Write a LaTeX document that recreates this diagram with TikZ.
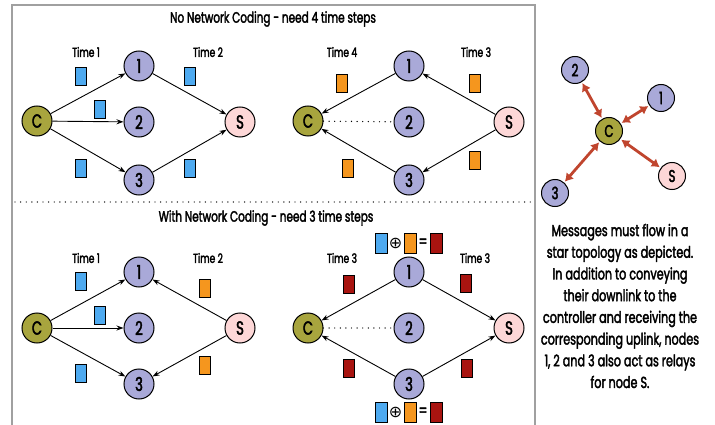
\documentclass[tikz,border=0pt]{standalone}
\usepackage{fontspec}
\setmainfont{Poppins}[FakeStretch=0.7,FakeBold=2.2]
\newfontfamily\symfont{DejaVu Sans}
\usetikzlibrary{arrows.meta}
\definecolor{colC}{HTML}{A8A53E}
\definecolor{colN}{HTML}{A9A9D8}
\definecolor{colS}{HTML}{FDD7D7}
\definecolor{pblue}{HTML}{4EAAF0}
\definecolor{porange}{HTML}{F5961E}
\definecolor{pred}{HTML}{A81410}
\definecolor{starred}{HTML}{C0452E}
\definecolor{framegray}{HTML}{A0A0A0}
\tikzset{
  nd/.style={circle,draw,line width=1pt,minimum size=30pt,inner sep=0pt,font=\fontsize{19}{19}\selectfont},
  snd/.style={nd,minimum size=27pt,font=\fontsize{17}{17}\selectfont},
  cnode/.style={fill=colC},
  nnode/.style={fill=colN},
  snode/.style={fill=colS},
  pk/.style={rectangle,draw,line width=0.6pt,minimum width=11pt,minimum height=18pt,inner sep=0pt},
  eqpk/.style={pk,minimum width=12pt,minimum height=20pt},
  edge/.style={line width=0.9pt,-{Stealth[length=7pt,width=5pt]}},
  dotline/.style={line width=1.4pt,line cap=round,dash pattern=on 0pt off 5.6pt},
  starrow/.style={starred,line width=2.8pt,{Latex[length=8pt,width=10pt]}-{Latex[length=8pt,width=10pt]},shorten <=1pt,shorten >=1pt},
  lbl/.style={font=\fontsize{13}{13}\selectfont},
  ttl/.style={font=\fontsize{15}{15}\selectfont},
  eqsym/.style={inner sep=0pt,font=\symfont\fontsize{16}{16}\selectfont},
  eqeq/.style={inner sep=0pt,font=\fontsize{17}{17}\selectfont}
}
\begin{document}
\begin{tikzpicture}[x=1pt,y=-1pt]
\useasboundingbox (0,0) rectangle (715,425);
% frame
\draw[framegray,line width=1.4pt] (12,428) -- (12,5) -- (535,5) -- (535,428);
\coordinate (sepL) at (15,202);
\coordinate (sepR) at (533,202);
\draw[dotline] (sepL) -- (sepR);
\node[ttl] (t1) at (273,19) {No Network Coding - need 4 time steps};
\node[ttl] (t2) at (266,218) {With Network Coding - need 3 time steps};

% ---------- top-left ----------
\node[nd,cnode] (aC) at (37,121) {C};
\node[nd,nnode] (a1) at (139,66) {1};
\node[nd,nnode] (a2) at (139,122) {2};
\node[nd,nnode] (a3) at (139,180) {3};
\node[nd,snode] (aS) at (240,122) {S};
\draw[edge] (aC) -- (a1);
\draw[edge] (aC) -- (a2);
\draw[edge] (aC) -- (a3);
\draw[edge] (a1) -- (aS);
\draw[edge] (a3) -- (aS);
\node[lbl] (aT1) at (86,52) {Time 1};
\node[lbl] (aT2) at (208,52) {Time 2};
\node[pk,fill=pblue] (ap1) at (81,76) {};
\node[pk,fill=pblue] (ap2) at (100,109) {};
\node[pk,fill=pblue] (ap3) at (81,168) {};
\node[pk,fill=pblue] (ap4) at (190,76) {};
\node[pk,fill=pblue] (ap5) at (190,168) {};

% ---------- top-right ----------
\node[nd,cnode] (bC) at (308,121) {C};
\node[nd,nnode] (b1) at (409,66) {1};
\node[nd,nnode] (b2) at (409,122) {2};
\node[nd,nnode] (b3) at (409,180) {3};
\node[nd,snode] (bS) at (509,122) {S};
\draw[edge] (b1) -- (bC);
\draw[edge] (b3) -- (bC);
\draw[edge] (bS) -- (b1);
\draw[edge] (bS) -- (b3);
\draw[dotline] (bC) -- (b2);
\node[lbl] (bT4) at (342,52) {Time 4};
\node[lbl] (bT3) at (476,52) {Time 3};
\node[pk,fill=porange] (bp1) at (342,83) {};
\node[pk,fill=porange] (bp2) at (348,168) {};
\node[pk,fill=porange] (bp3) at (475,83) {};
\node[pk,fill=porange] (bp4) at (475,160) {};

% ---------- bottom-left ----------
\node[nd,cnode] (cC) at (37,328) {C};
\node[nd,nnode] (c1) at (139,272) {1};
\node[nd,nnode] (c2) at (139,328) {2};
\node[nd,nnode] (c3) at (139,384) {3};
\node[nd,snode] (cS) at (240,328) {S};
\draw[edge] (cC) -- (c1);
\draw[edge] (cC) -- (c2);
\draw[edge] (cC) -- (c3);
\draw[edge] (cS) -- (c1);
\draw[edge] (cS) -- (c3);
\node[lbl] (cT1) at (86,258) {Time 1};
\node[lbl] (cT2) at (208,258) {Time 2};
\node[pk,fill=pblue] (cp1) at (81,281) {};
\node[pk,fill=pblue] (cp2) at (100,315) {};
\node[pk,fill=pblue] (cp3) at (81,373) {};
\node[pk,fill=porange] (cp4) at (205,288) {};
\node[pk,fill=porange] (cp5) at (205,365) {};

% ---------- bottom-right ----------
\node[nd,cnode] (dC) at (308,328) {C};
\node[nd,nnode] (d1) at (409,272) {1};
\node[nd,nnode] (d2) at (409,328) {2};
\node[nd,nnode] (d3) at (409,384) {3};
\node[nd,snode] (dS) at (509,328) {S};
\draw[edge] (d1) -- (dC);
\draw[edge] (d3) -- (dC);
\draw[edge] (d1) -- (dS);
\draw[edge] (d3) -- (dS);
\draw[dotline] (dC) -- (d2);
\node[lbl] (dT3a) at (342,258) {Time 3};
\node[lbl] (dT3b) at (475,258) {Time 3};
\node[pk,fill=pred] (dp1) at (349,284) {};
\node[pk,fill=pred] (dp2) at (466,283) {};
\node[pk,fill=pred] (dp3) at (349,368) {};
\node[pk,fill=pred] (dp4) at (467,368) {};
% equations
\node[eqpk,fill=pblue] (e1a) at (381,243) {};
\node[eqsym] (e1b) at (395.5,243) {⊕};
\node[eqpk,fill=porange] (e1c) at (410,243) {};
\node[eqeq] (e1d) at (423,243) {=};
\node[eqpk,fill=pred] (e1e) at (436,243) {};
\node[eqpk,fill=pblue] (e2a) at (381,412) {};
\node[eqsym] (e2b) at (395.5,412) {⊕};
\node[eqpk,fill=porange] (e2c) at (410,412) {};
\node[eqeq] (e2d) at (423,412) {=};
\node[eqpk,fill=pred] (e2e) at (436,412) {};

% ---------- star ----------
\node[snd,cnode] (sC) at (609,131) {C};
\node[snd,nnode] (s2) at (575,70) {2};
\node[snd,nnode] (s1) at (661,98) {1};
\node[snd,snode] (sS) at (672,176) {S};
\node[snd,nnode] (s3) at (555,193) {3};
\draw[starrow] (s2) -- (sC);
\draw[starrow] (s1) -- (sC);
\draw[starrow] (sS) -- (sC);
\draw[starrow] (s3) -- (sC);

\node[align=center,font=\fontsize{16}{21.7}\selectfont,inner sep=0pt] (para) at (620,306)
{Messages must flow in a\\ star topology as depicted.\\ In addition to conveying\\ their downlink to the\\ controller and receiving the\\ corresponding uplink, nodes\\ 1, 2 and 3 also act as relays\\ for node S.};
\end{tikzpicture}
\end{document}
